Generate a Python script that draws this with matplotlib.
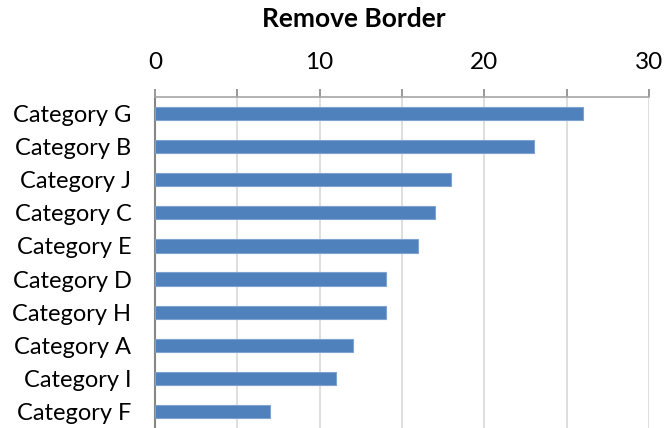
import matplotlib
matplotlib.use("Agg")
import matplotlib.pyplot as plt
from matplotlib.ticker import MultipleLocator

categories = ["Category G", "Category B", "Category J", "Category C", "Category E",
              "Category D", "Category H", "Category A", "Category I", "Category F"]
values = [26, 23, 18, 17, 16, 14, 14, 12, 11, 7]
x_ticks = [0, 10, 20, 30]
title = "Remove Border"

plt.rcParams["font.family"] = ["Lato", "DejaVu Sans"]

fig = plt.figure(figsize=(6.67, 4.28), dpi=100)
ax = fig.add_axes([155 / 667, 0.0, (649 - 155) / 667, 1 - 97 / 428])

ypos = list(range(len(categories)))
ax.barh(ypos, values, height=0.4, color="#4F81BD", edgecolor="#7FA3D1",
        linewidth=0.8, zorder=3)

ax.set_ylim(len(categories) - 0.5, -0.5)
ax.set_yticks(ypos)
ax.set_yticklabels(categories, fontsize=17)
ax.tick_params(axis="y", length=0, pad=17)

ax.set_xlim(0, 30)
ax.xaxis.tick_top()
ax.set_xticks(x_ticks)
ax.set_xticklabels([str(t) for t in x_ticks], fontsize=17.5)
ax.xaxis.set_minor_locator(MultipleLocator(5))
ax.tick_params(axis="x", which="both", direction="out", length=6, width=1.2,
               color="#868686", pad=11)
ax.grid(axis="x", which="both", color="#D9D9D9", linewidth=1.2, zorder=0)

for side in ("right", "bottom"):
    ax.spines[side].set_visible(False)
ax.spines["top"].set_color("#A6A6A6")
ax.spines["top"].set_linewidth(1.2)
ax.spines["left"].set_color("#868686")
ax.spines["left"].set_linewidth(1.5)

fig.text(354 / 667, 1 - 19 / 428, title, ha="center", va="center",
         fontsize=19, fontweight="bold")

fig.savefig("out.png", dpi=100)
